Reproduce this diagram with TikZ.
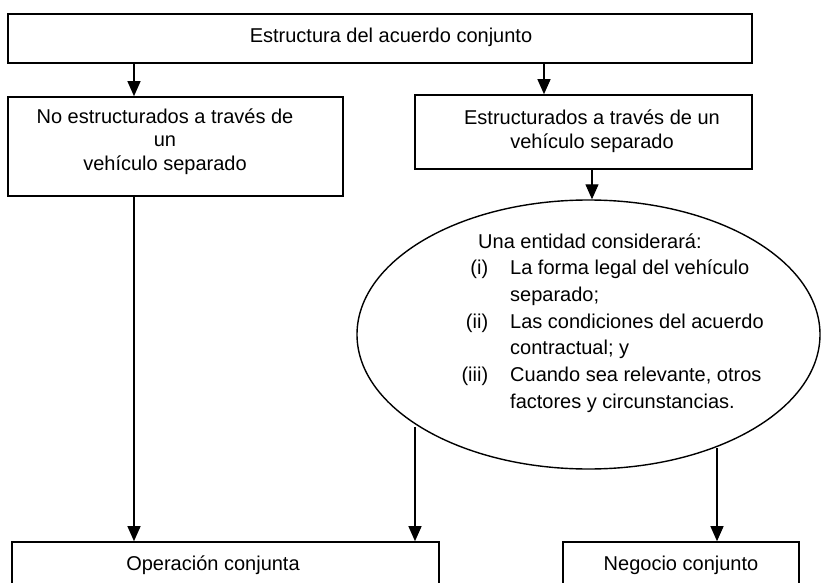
\documentclass[tikz,border=0pt]{standalone}
\usepackage{fontspec}
\setmainfont{Liberation Sans}
\usetikzlibrary{arrows.meta,shapes.geometric}
\begin{document}
\begin{tikzpicture}[x=1pt,y=-1pt,
  boxnode/.style={draw,line width=1.6pt,rectangle,inner sep=0pt},
  txt/.style={inner sep=0pt,font=\fontsize{20}{23.5}\selectfont,align=center},
  conn/.style={line width=1.2pt,-{Triangle[length=15pt,width=13pt]}}]
\useasboundingbox (0,0) rectangle (822,583);
\clip (0,0) rectangle (822,583);
% boxes
\node[boxnode,minimum width=744pt,minimum height=49pt] (top) at (380,38.5) {};
\node[txt] (toptxt) at (391,37) {Estructura del acuerdo conjunto};
\node[boxnode,minimum width=335pt,minimum height=99pt] (lbox) at (175.5,146.5) {};
\node[txt] (lboxtxt) at (165,141.5) {No estructurados a través de\\un\\vehículo separado};
\node[boxnode,minimum width=337pt,minimum height=74pt] (rbox) at (583.5,132) {};
\node[txt,font=\fontsize{20}{24}\selectfont] (rboxtxt) at (592,131) {Estructurados a través de un\\vehículo separado};
% ellipse
\node[draw,line width=1.4pt,ellipse,inner sep=0pt,minimum width=463pt,minimum height=269pt] (ell) at (588.5,334.5) {};
\node[inner sep=0pt,anchor=west,align=left,font=\fontsize{20}{26.7}\selectfont] (elltxt) at (462,323) {%
\hspace*{16pt}Una entidad considerará:\\
\makebox[26pt][r]{(i)}\hspace*{22pt}La forma legal del vehículo\\
\hspace*{48pt}separado;\\
\makebox[26pt][r]{(ii)}\hspace*{22pt}Las condiciones del acuerdo\\
\hspace*{48pt}contractual; y\\
\makebox[26pt][r]{(iii)}\hspace*{22pt}Cuando sea relevante, otros\\
\hspace*{48pt}factores y circunstancias.};
% bottom boxes
\node[boxnode,minimum width=427pt,minimum height=48pt] (op) at (225.5,566) {};
\node[txt] (optxt) at (213,565) {Operación conjunta};
\node[boxnode,minimum width=236pt,minimum height=48pt] (neg) at (681,566) {};
\node[txt] (negtxt) at (681,565) {Negocio conjunto};
% connector x positions
\coordinate (xL) at (134,0);
\coordinate (xR) at (544,0);
\coordinate (xE) at (592,0);
\coordinate (ellL) at (415,427);
\coordinate (ellR) at (717,448);
% connectors
\draw[conn] (top.south -| xL) -- (lbox.north -| xL);
\draw[conn] (top.south -| xR) -- (rbox.north -| xR);
\draw[conn] (rbox.south -| xE) -- (ell.north -| xE);
\draw[conn] (lbox.south -| xL) -- (op.north -| xL);
\draw[conn] (ellL) -- (op.north -| ellL);
\draw[conn] (ellR) -- (neg.north -| ellR);
\end{tikzpicture}
\end{document}
